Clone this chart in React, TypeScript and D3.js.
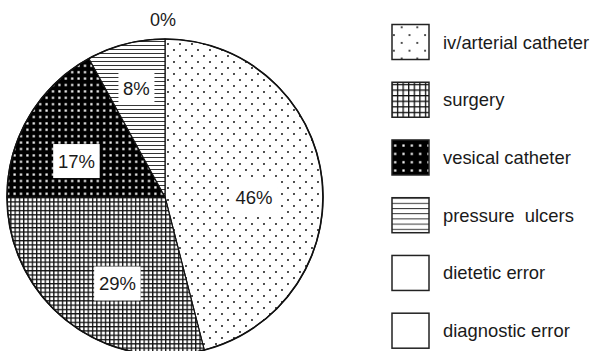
import React from "react";
import * as d3 from "d3";

// Sources of the infections, share in percent
const causes = [
  "iv/arterial catheter",
  "surgery",
  "vesical catheter",
  "pressure  ulcers",
  "dietetic error",
  "diagnostic error",
];
const shares = [46, 29, 17, 8, 0, 0];
const patternIds = ["dots", "grid", "darkdots", "hlines", "none", "none"];

// Where each value label sits inside its slice: fraction of the slice angle, fraction of the radius
const labelAngleFrac = [0.547, 0.414, 0.361, 0.49];
const labelRadiusFrac = [0.563, 0.625, 0.605, 0.713];

const W = 593;
const H = 351;
const cx = 165;
const cy = 197;
const R = 158;
const FONT = "'Liberation Sans', Arial, Helvetica, sans-serif";
const INK = "#1a1a1a";

function Patterns({ prefix, s }: { prefix: string; s: number }) {
  const dot = 12 * s;
  const grid = 4.3 * s;
  const dd = 6.4 * s;
  const hl = 4 * s;
  return (
    <>
      <pattern id={`${prefix}dots`} patternUnits="userSpaceOnUse" width={dot} height={dot}>
        <rect width={dot} height={dot} fill="#fff" />
        <circle cx={dot * 0.25} cy={dot * 0.25} r={1.05} fill="#222" />
        <circle cx={dot * 0.75} cy={dot * 0.75} r={1.05} fill="#222" />
      </pattern>
      <pattern id={`${prefix}grid`} patternUnits="userSpaceOnUse" width={grid} height={grid}>
        <rect width={grid} height={grid} fill="#fff" />
        <rect x={0} y={0} width={grid} height={1.3} fill="#111" />
        <rect x={0} y={0} width={1.3} height={grid} fill="#111" />
      </pattern>
      <pattern id={`${prefix}darkdots`} patternUnits="userSpaceOnUse" width={dd} height={dd}>
        <rect width={dd} height={dd} fill="#000" />
        <rect x={dd / 2 - 1.1} y={dd / 2 - 1.1} width={2.2} height={2.2} fill="#fff" />
      </pattern>
      <pattern id={`${prefix}hlines`} patternUnits="userSpaceOnUse" width={hl} height={hl}>
        <rect width={hl} height={hl} fill="#fff" />
        <rect x={0} y={0} width={hl} height={1} fill="#333" />
      </pattern>
    </>
  );
}

export default function App() {
  const pie = d3
    .pie<number>()
    .sort(null)
    .value((d) => d);
  const arcs = pie(shares);
  const arcGen = d3.arc<d3.PieArcDatum<number>>().innerRadius(0).outerRadius(R);

  const fillFor = (id: string, prefix: string) => (id === "none" ? "#fff" : `url(#${prefix}${id})`);

  // Label boxes for non-zero slices
  const labels = arcs
    .map((a, i) => {
      if (a.value === 0) return null;
      const ang = a.startAngle + (a.endAngle - a.startAngle) * labelAngleFrac[i];
      const r = R * labelRadiusFrac[i];
      return {
        x: cx + r * Math.sin(ang),
        y: cy - r * Math.cos(ang),
        text: `${a.value}%`,
      };
    })
    .filter(Boolean) as { x: number; y: number; text: string }[];

  // A single label for the empty slices, placed outside the rim at their angle
  const zeroArc = arcs.find((a) => a.value === 0);
  const zeroLabel = zeroArc
    ? {
        x: cx + (R + 19) * Math.sin(zeroArc.startAngle) - 2,
        y: cy - (R + 19) * Math.cos(zeroArc.startAngle),
        text: `${zeroArc.value}%`,
      }
    : null;

  const approxWidth = (t: string) => t.length * 10.5 + (t.includes("%") ? 5 : 0);

  const legendY = d3
    .scalePoint<string>()
    .domain(causes)
    .range([42, 330.7]);

  return (
    <svg
      width={W}
      height={H}
      style={{ position: "absolute", left: 0, top: 0, background: "#fff" }}
      fontFamily={FONT}
    >
      <defs>
        <Patterns prefix="p-" s={1} />
        <Patterns prefix="l-" s={1.3} />
      </defs>

      <g transform={`translate(${cx},${cy})`}>
        {arcs.map((a, i) =>
          a.value > 0 ? (
            <path
              key={causes[i]}
              d={arcGen(a) || ""}
              fill={fillFor(patternIds[i], "p-")}
              stroke="#111"
              strokeWidth={1.2}
              strokeLinejoin="round"
            />
          ) : null
        )}
        <circle r={R} fill="none" stroke="#111" strokeWidth={1.6} />
      </g>

      {labels.map((l) => {
        const w = approxWidth(l.text) + 10;
        return (
          <g key={l.text}>
            <rect x={l.x - w / 2} y={l.y - 17} width={w} height={34} fill="#fff" />
            <text
              x={l.x}
              y={l.y}
              dy="0.35em"
              textAnchor="middle"
              fontSize={18.5}
              fill={INK}
            >
              {l.text}
            </text>
          </g>
        );
      })}

      {zeroLabel && (
        <text x={zeroLabel.x} y={zeroLabel.y} dy="0.35em" textAnchor="middle" fontSize={18} fill={INK}>
          {zeroLabel.text}
        </text>
      )}

      {causes.map((c, i) => {
        const y = legendY(c) as number;
        return (
          <g key={c}>
            <rect
              x={392}
              y={y - 17.5}
              width={37}
              height={35}
              fill={fillFor(patternIds[i], "l-")}
              stroke="#222"
              strokeWidth={1.5}
            />
            <text x={443} y={y + 6.5} fontSize={18.4} fill={INK} style={{ whiteSpace: "pre" }}>
              {c}
            </text>
          </g>
        );
      })}
    </svg>
  );
}
